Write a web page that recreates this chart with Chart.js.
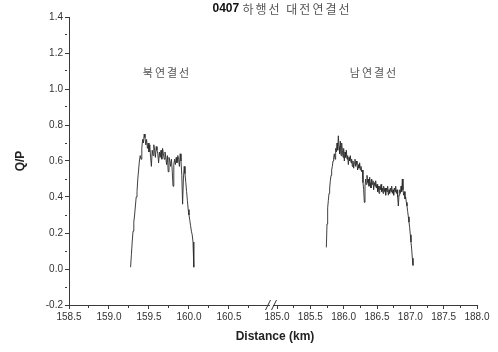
<!DOCTYPE html>
<html>
<head>
<meta charset="utf-8">
<script src="https://cdn.jsdelivr.net/npm/chart.js@4/dist/chart.umd.min.js"></script>
<style>
  html, body { margin: 0; padding: 0; background: #fff; }
  #wrap { width: 498px; height: 352px; }
</style>
</head>
<body>
<div id="wrap"><canvas id="c" width="498" height="352"></canvas></div>
<script>
// Text
const titleNumber = '0407';
const titleText = '하행선 대전연결선';
const northLabel = '북연결선';
const southLabel = '남연결선';
const xAxisTitle = 'Distance (km)';
const yAxisTitle = 'Q/P';

// North connection line (km, Q/P)
const northDistance = [
  159.27, 159.28, 159.29, 159.30, 159.31, 159.32, 159.33, 159.34, 159.35, 159.36,
  159.37, 159.38, 159.39, 159.40, 159.41, 159.42, 159.43, 159.44, 159.45, 159.46,
  159.47, 159.48, 159.49, 159.50, 159.51, 159.52, 159.53, 159.54, 159.55, 159.56,
  159.57, 159.58, 159.59, 159.60, 159.61, 159.62, 159.63, 159.64, 159.65, 159.66,
  159.67, 159.68, 159.69, 159.70, 159.71, 159.72, 159.73, 159.74, 159.75, 159.76,
  159.77, 159.78, 159.79, 159.80, 159.81, 159.82, 159.83, 159.84, 159.85, 159.86,
  159.87, 159.88, 159.89, 159.90, 159.91, 159.92, 159.93, 159.94, 159.95, 159.96,
  159.97, 159.98, 159.99, 160.00, 160.01, 160.02, 160.03, 160.04, 160.05, 160.06
];
const northQP = [
  0.01, 0.08, 0.15, 0.21, 0.26, 0.30, 0.35, 0.40, 0.43, 0.50,
  0.55, 0.60, 0.63, 0.61, 0.67, 0.72, 0.70, 0.75, 0.73, 0.69,
  0.72, 0.67, 0.70, 0.65, 0.69, 0.62, 0.57, 0.66, 0.63, 0.69,
  0.66, 0.62, 0.68, 0.66, 0.64, 0.59, 0.65, 0.62, 0.66, 0.61,
  0.67, 0.64, 0.61, 0.65, 0.62, 0.58, 0.63, 0.54, 0.62, 0.60,
  0.57, 0.61, 0.55, 0.46, 0.58, 0.61, 0.58, 0.62, 0.59, 0.63,
  0.61, 0.57, 0.64, 0.60, 0.52, 0.36, 0.50, 0.57, 0.53, 0.48,
  0.43, 0.38, 0.33, 0.30, 0.27, 0.24, 0.21, 0.19, 0.15, 0.01
];

// South connection line (km, Q/P)
const southDistance = [
  185.74, 185.75, 185.76, 185.77, 185.78, 185.79, 185.80, 185.81, 185.82, 185.83,
  185.84, 185.85, 185.86, 185.87, 185.88, 185.89, 185.90, 185.91, 185.92, 185.93,
  185.94, 185.95, 185.96, 185.97, 185.98, 185.99, 186.00, 186.01, 186.02, 186.03,
  186.04, 186.05, 186.06, 186.07, 186.08, 186.09, 186.10, 186.11, 186.12, 186.13,
  186.14, 186.15, 186.16, 186.17, 186.18, 186.19, 186.20, 186.21, 186.22, 186.23,
  186.24, 186.25, 186.26, 186.27, 186.28, 186.29, 186.30, 186.31, 186.32, 186.33,
  186.34, 186.35, 186.36, 186.37, 186.38, 186.39, 186.40, 186.41, 186.42, 186.43,
  186.44, 186.45, 186.46, 186.47, 186.48, 186.49, 186.50, 186.51, 186.52, 186.53,
  186.54, 186.55, 186.56, 186.57, 186.58, 186.59, 186.60, 186.61, 186.62, 186.63,
  186.64, 186.65, 186.66, 186.67, 186.68, 186.69, 186.70, 186.71, 186.72, 186.73,
  186.74, 186.75, 186.76, 186.77, 186.78, 186.79, 186.80, 186.81, 186.82, 186.83,
  186.84, 186.85, 186.86, 186.87, 186.88, 186.89, 186.90, 186.91, 186.92, 186.93,
  186.94, 186.95, 186.96, 186.97, 186.98, 186.99, 187.00, 187.01, 187.02, 187.03,
  187.04
];
const southQP = [
  0.12, 0.25, 0.34, 0.38, 0.42, 0.45, 0.49, 0.52, 0.55, 0.57,
  0.60, 0.62, 0.64, 0.61, 0.67, 0.65, 0.70, 0.66, 0.74, 0.68,
  0.64, 0.71, 0.63, 0.70, 0.66, 0.62, 0.67, 0.60, 0.65, 0.62,
  0.66, 0.61, 0.63, 0.58, 0.62, 0.60, 0.63, 0.59, 0.61, 0.57,
  0.60, 0.56, 0.59, 0.61, 0.57, 0.60, 0.58, 0.55, 0.58, 0.56,
  0.59, 0.55, 0.57, 0.54, 0.55, 0.48, 0.44, 0.37, 0.46, 0.50,
  0.47, 0.52, 0.48, 0.50, 0.46, 0.51, 0.48, 0.45, 0.50, 0.47,
  0.49, 0.44, 0.48, 0.46, 0.49, 0.45, 0.47, 0.43, 0.46, 0.42,
  0.46, 0.44, 0.47, 0.43, 0.45, 0.42, 0.46, 0.43, 0.45, 0.41,
  0.45, 0.43, 0.46, 0.41, 0.44, 0.42, 0.45, 0.43, 0.46, 0.42,
  0.44, 0.41, 0.45, 0.43, 0.46, 0.42, 0.44, 0.40, 0.35, 0.41,
  0.44, 0.42, 0.46, 0.43, 0.50, 0.44, 0.41, 0.43, 0.39, 0.40,
  0.37, 0.35, 0.32, 0.29, 0.26, 0.23, 0.19, 0.15, 0.11, 0.06,
  0.02
];

// Labelled tick values for each axis segment
const northTicks = [158.5, 159.0, 159.5, 160.0, 160.5];
const southTicks = [185.0, 185.5, 186.0, 186.5, 187.0, 187.5, 188.0];
const qpTicks = [-0.2, 0.0, 0.2, 0.4, 0.6, 0.8, 1.0, 1.2, 1.4];

const toPoints = (xs, ys) => xs.map((x, i) => ({ x, y: ys[i] }));

// Labelled ticks plus an unlabelled minor tick halfway to the next one
function buildTicks(majors, max) {
  const half = (majors[1] - majors[0]) / 2;
  const out = [];
  majors.forEach(v => {
    out.push({ value: v, isMajor: true });
    const m = +(v + half).toFixed(4);
    if (m <= max + 1e-9) out.push({ value: m, isMajor: false });
  });
  return out;
}

const axisColor = '#3a3a3a';
const tickFont = { family: '"Liberation Sans", Arial, sans-serif', size: 10 };

function axisCommon(majors, decimals) {
  return {
    type: 'linear',
    border: { display: true, color: axisColor, width: 1 },
    grid: {
      drawOnChartArea: false,
      drawTicks: true,
      tickLength: 4,
      color: axisColor,
      tickBorderDash: ctx => (ctx.tick && ctx.tick.isMajor === false) ? [2, 40] : []
    },
    ticks: {
      autoSkip: false,
      maxRotation: 0,
      minRotation: 0,
      padding: 2,
      color: '#333',
      font: tickFont,
      callback: (value, index, ticks) => ticks[index].isMajor ? Number(value).toFixed(decimals) : ''
    }
  };
}

const xNorth = Object.assign(axisCommon(northTicks, 1), {
  position: 'bottom', stack: 'distance', stackWeight: 1,
  min: 158.5, max: 161.05,
  afterBuildTicks: s => { s.ticks = buildTicks(northTicks, 161.05); },
  afterFit: s => { s.height = 47; }
});
const xSouth = Object.assign(axisCommon(southTicks, 1), {
  position: 'bottom', stack: 'distance', stackWeight: 1,
  min: 184.94, max: 188.0,
  afterBuildTicks: s => { s.ticks = buildTicks(southTicks, 188.0); },
  afterFit: s => { s.height = 47; }
});
const yAxis = Object.assign(axisCommon(qpTicks, 1), {
  position: 'left',
  min: -0.2, max: 1.4,
  afterBuildTicks: s => { s.ticks = buildTicks(qpTicks, 1.4); },
  afterFit: s => { s.width = 69; }
});

// Title, segment labels, axis titles and the axis-break marks
const overlay = {
  id: 'overlay',
  afterDraw(chart) {
    const { ctx, chartArea, scales } = chart;
    const xN = scales.xN, xS = scales.xS, y = scales.y;
    ctx.save();

    // axis break "//" at the join between the two distance ranges
    const bx = xN.right, by = xN.top;
    ctx.fillStyle = '#fff';
    ctx.fillRect(bx - 3, by - 1, 3, 3);
    ctx.strokeStyle = '#333';
    ctx.lineWidth = 1;
    [-5, 1].forEach(dx => {
      ctx.beginPath();
      ctx.moveTo(bx + dx - 2.5, by + 5);
      ctx.lineTo(bx + dx + 2.5, by - 5);
      ctx.stroke();
    });

    // chart title
    const numFont = 'bold 12px "Liberation Sans", Arial, sans-serif';
    const krFont = '12px "Noto Sans CJK KR", sans-serif';
    const cx = (chartArea.left + chartArea.right) / 2 + 9;
    ctx.textBaseline = 'middle';
    ctx.font = numFont;
    const numW = ctx.measureText(titleNumber + ' ').width;
    ctx.font = krFont;
    ctx.letterSpacing = '2px';
    const txtW = ctx.measureText(titleText).width;
    const startX = cx - (numW + txtW) / 2;
    ctx.letterSpacing = '0px';
    ctx.textAlign = 'left';
    ctx.fillStyle = '#111';
    ctx.font = numFont;
    ctx.fillText(titleNumber, startX, 9);
    ctx.font = krFont;
    ctx.letterSpacing = '2px';
    ctx.fillStyle = '#555';
    ctx.fillText(titleText, startX + numW, 9);

    // segment labels
    ctx.textAlign = 'center';
    ctx.letterSpacing = '2px';
    ctx.fillStyle = '#555';
    ctx.font = '11px "Noto Sans CJK KR", sans-serif';
    ctx.fillText(northLabel, xN.getPixelForValue(159.725), y.getPixelForValue(1.09));
    ctx.fillText(southLabel, xS.getPixelForValue(186.455), y.getPixelForValue(1.09));
    ctx.letterSpacing = '0px';

    // axis titles
    ctx.fillStyle = '#222';
    ctx.font = 'bold 12px "Liberation Sans", Arial, sans-serif';
    ctx.fillText(xAxisTitle, (chartArea.left + chartArea.right) / 2 + 2, 337);
    ctx.translate(21, (chartArea.top + chartArea.bottom) / 2);
    ctx.rotate(-Math.PI / 2);
    ctx.fillText(yAxisTitle, 0, 0);
    ctx.restore();
  }
};

const lineStyle = {
  borderColor: '#2a2a2a',
  borderWidth: 0.9,
  pointRadius: 0,
  tension: 0,
  fill: false
};

new Chart(document.getElementById('c'), {
  type: 'line',
  data: {
    datasets: [
      Object.assign({ label: northLabel, data: toPoints(northDistance, northQP), xAxisID: 'xN', yAxisID: 'y' }, lineStyle),
      Object.assign({ label: southLabel, data: toPoints(southDistance, southQP), xAxisID: 'xS', yAxisID: 'y' }, lineStyle)
    ]
  },
  options: {
    responsive: false,
    animation: false,
    layout: { padding: { top: 17, right: 21, bottom: 0, left: 0 } },
    plugins: {
      legend: { display: false },
      title: { display: false },
      tooltip: { enabled: false }
    },
    scales: { xN: xNorth, xS: xSouth, y: yAxis }
  },
  plugins: [overlay]
});
</script>
</body>
</html>
